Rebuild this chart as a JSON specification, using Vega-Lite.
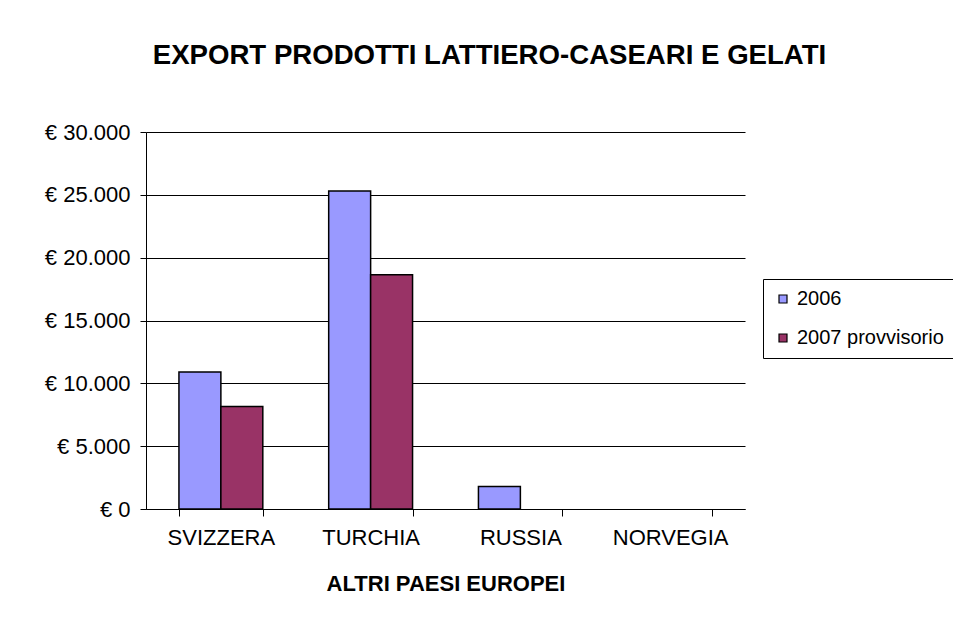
{
  "$schema": "https://vega.github.io/schema/vega-lite/v6.json",
  "width": 599,
  "height": 377,
  "autosize": {"type": "none"},
  "padding": {"left": 146, "top": 132, "right": 208, "bottom": 120},
  "background": "white",
  "title": {
    "text": "EXPORT PRODOTTI LATTIERO-CASEARI E GELATI",
    "font": "Liberation Sans",
    "fontSize": 27.6,
    "fontWeight": "bold",
    "color": "black",
    "anchor": "middle",
    "dx": 44,
    "offset": 51
  },
  "data": {
    "values": [
      {"paese": "SVIZZERA", "anno": "2006", "valore": 10900},
      {"paese": "SVIZZERA", "anno": "2007 provvisorio", "valore": 8150},
      {"paese": "TURCHIA", "anno": "2006", "valore": 25300},
      {"paese": "TURCHIA", "anno": "2007 provvisorio", "valore": 18650},
      {"paese": "RUSSIA", "anno": "2006", "valore": 1800}
    ]
  },
  "mark": {"type": "bar", "stroke": "black", "strokeWidth": 1.5},
  "encoding": {
    "x": {
      "field": "paese",
      "type": "nominal",
      "scale": {"domain": ["SVIZZERA", "TURCHIA", "RUSSIA", "NORVEGIA"], "paddingInner": 0.44, "paddingOuter": 0.22},
      "axis": {
        "title": "ALTRI PAESI EUROPEI",
        "titleFont": "Liberation Sans",
        "titleFontSize": 22,
        "titleFontWeight": "bold",
        "titleColor": "black",
        "titlePadding": 25,
        "labelFont": "Liberation Sans",
        "labelFontSize": 22,
        "labelColor": "black",
        "labelAngle": 0,
        "labelPadding": 11,
        "tickBand": "extent",
        "tickSize": 7,
        "tickColor": "black",
        "domainColor": "black",
        "domainWidth": 1,
        "grid": false
      }
    },
    "xOffset": {"field": "anno", "type": "nominal", "scale": {"domain": ["2006", "2007 provvisorio"]}},
    "y": {
      "field": "valore",
      "type": "quantitative",
      "scale": {"domain": [0, 30000], "nice": false},
      "axis": {
        "title": null,
        "values": [0, 5000, 10000, 15000, 20000, 25000, 30000],
        "labelExpr": "'€ ' + replace(format(datum.value, ','), ',', '.')",
        "labelFont": "Liberation Sans",
        "labelFontSize": 22,
        "labelColor": "black",
        "labelPadding": 10,
        "tickSize": 6,
        "tickColor": "black",
        "domainColor": "black",
        "grid": true,
        "gridColor": "black",
        "gridWidth": 1,
        "gridOpacity": 1
      }
    },
    "color": {
      "field": "anno",
      "type": "nominal",
      "scale": {"domain": ["2006", "2007 provvisorio"], "range": ["#9999FF", "#993366"]},
      "legend": {
        "title": null,
        "orient": "none",
        "legendX": 617,
        "legendY": 147,
        "strokeColor": "black",
        "fillColor": "white",
        "padding": 10,
        "rowPadding": 19,
        "symbolType": "square",
        "symbolSize": 64,
        "symbolStrokeColor": "black",
        "symbolStrokeWidth": 1.2,
        "symbolOpacity": 1,
        "labelOffset": 4,
        "labelFont": "Liberation Sans",
        "labelFontSize": 20,
        "labelColor": "black",
        "labelLimit": 300
      }
    }
  },
  "config": {"view": {"stroke": null}}
}
